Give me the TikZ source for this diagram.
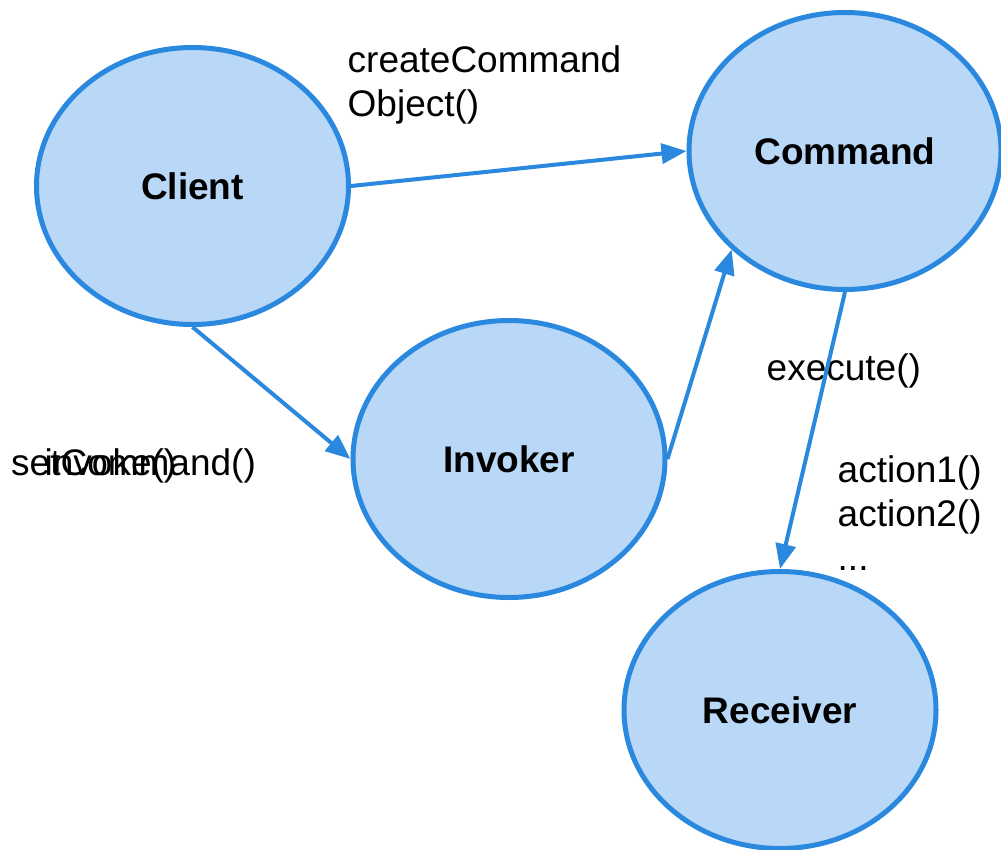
\documentclass[tikz,border=0pt]{standalone}
\usepackage{fontspec}
\setmainfont{Liberation Sans}
\usetikzlibrary{arrows.meta, shapes.geometric, positioning}
\definecolor{objfill}{RGB}{185,215,246}
\definecolor{objline}{RGB}{42,136,222}

\begin{document}
\begin{tikzpicture}[x=1pt, y=-1pt,
  obj/.style={ellipse, draw=objline, fill=objfill, line width=5pt,
    minimum width=312pt, minimum height=277pt, inner sep=0pt,
    font=\fontsize{37}{44}\selectfont\bfseries},
  lbl/.style={anchor=base west, inner sep=0pt, align=left,
    font=\fontsize{37}{44}\selectfont},
  msg/.style={draw=objline, line width=4pt, -{Triangle[length=25pt,width=20pt]}}]
\useasboundingbox (0,0) rectangle (1001,850);

\node (Cl) [obj] at (192.5,186) {Client};
\node (Cmd) [obj] at (845,151) {Command};
\node (Inv) [obj] at (509,459) {Invoker};
\node (Rec) [obj] at (780,710) {Receiver};

% base of a multi-line label is its last line
\node (createLbl) [lbl] at (347.5,117) {createCommand\\Object()};
\node (setLbl) [lbl] at (11,475) {setCommand()};
\node (invLbl) [lbl] at (44.5,475) {invoke()};
\node (execLbl) [lbl] at (766.5,380) {execute()};
\node (actLbl) [lbl] at (837.5,570) {action1()\\action2()\\...};

\path (Cl.east) edge[msg] (Cmd.west);
\path (Cl.south) edge[msg] (Inv.west);
\path (Inv.east) edge[msg] (Cmd.221);
\path (Cmd.south) edge[msg] (Rec.north);
\end{tikzpicture}
\end{document}
